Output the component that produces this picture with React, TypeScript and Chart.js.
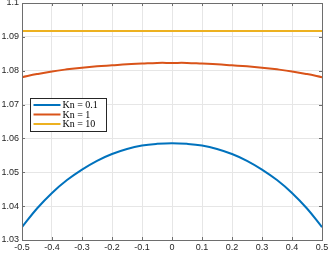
import React, { useEffect, useRef } from "react";
import { Chart, registerables } from "chart.js";

Chart.register(...registerables);

const xPositions = [-0.5, -0.45, -0.4, -0.35, -0.3, -0.25, -0.2, -0.15, -0.1, -0.05, 0, 0.05, 0.1, 0.15, 0.2, 0.25, 0.3, 0.35, 0.4, 0.45, 0.5];
const kn01 = [1.0338, 1.0393, 1.0439, 1.0477, 1.0508, 1.0534, 1.0554, 1.0569, 1.0579, 1.0584, 1.0586, 1.0584, 1.0579, 1.0569, 1.0554, 1.0534, 1.0508, 1.0477, 1.0439, 1.0393, 1.0338];
const kn1 = [1.0781, 1.079, 1.0798, 1.0804, 1.0809, 1.0813, 1.0816, 1.0819, 1.0821, 1.0823, 1.0823, 1.0823, 1.0821, 1.0819, 1.0816, 1.0813, 1.0809, 1.0804, 1.0798, 1.079, 1.0781];
const kn10 = [1.0917, 1.0917, 1.0917, 1.0917, 1.0917, 1.0917, 1.0917, 1.0917, 1.0917, 1.0917, 1.0917, 1.0917, 1.0917, 1.0917, 1.0917, 1.0917, 1.0917, 1.0917, 1.0917, 1.0917, 1.0917];
const seriesLabels = ["Kn = 0.1", "Kn = 1", "Kn = 10"];
const seriesColors = ["#0072BD", "#D95319", "#EDB120"];
const xTickLabels = ["-0.5", "-0.4", "-0.3", "-0.2", "-0.1", "0", "0.1", "0.2", "0.3", "0.4", "0.5"];
const yTickLabels = ["1.03", "1.04", "1.05", "1.06", "1.07", "1.08", "1.09", "1.1"];

const AXIS_COLOR = "#6e6e6e";

const framePlugin = {
  id: "frame",
  afterDatasetsDraw(chart: any) {
    const { ctx, chartArea: a, scales } = chart;
    ctx.save();
    ctx.strokeStyle = AXIS_COLOR;
    ctx.lineWidth = 1;
    ctx.beginPath();
    const L = 3;
    scales.x.ticks.forEach((t: any) => {
      const px = Math.round(scales.x.getPixelForValue(t.value)) + 0.5;
      ctx.moveTo(px, a.bottom);
      ctx.lineTo(px, a.bottom - L);
      ctx.moveTo(px, a.top);
      ctx.lineTo(px, a.top + L);
    });
    scales.y.ticks.forEach((t: any) => {
      const py = Math.round(scales.y.getPixelForValue(t.value)) + 0.5;
      ctx.moveTo(a.left, py);
      ctx.lineTo(a.left + L, py);
      ctx.moveTo(a.right, py);
      ctx.lineTo(a.right - L, py);
    });
    ctx.stroke();
    ctx.strokeRect(Math.round(a.left) + 0.5, Math.round(a.top) + 0.5, Math.round(a.right - a.left), Math.round(a.bottom - a.top));

    // legend
    const lx = 30.5, ly = 98.5, lw = 76, lh = 33;
    ctx.fillStyle = "#ffffff";
    ctx.fillRect(lx, ly, lw, lh);
    ctx.strokeStyle = "#262626";
    ctx.lineWidth = 1;
    ctx.strokeRect(lx, ly, lw, lh);
    ctx.font = "10px 'Liberation Serif', 'DejaVu Serif', serif";
    ctx.textBaseline = "middle";
    ctx.textAlign = "left";
    seriesLabels.forEach((lab, i) => {
      const y = ly + 6.5 + i * 9.5;
      ctx.strokeStyle = seriesColors[i];
      ctx.lineWidth = 2;
      ctx.beginPath();
      ctx.moveTo(lx + 3, y);
      ctx.lineTo(lx + 30, y);
      ctx.stroke();
      ctx.fillStyle = "#000000";
      ctx.fillText(lab, lx + 32, y + 0.5);
    });
    ctx.restore();
  },
};

export default function App() {
  const ref = useRef<HTMLCanvasElement>(null);
  useEffect(() => {
    document.body.style.margin = "0";
    const mk = (vals: number[]) => xPositions.map((x, i) => ({ x, y: vals[i] }));
    const chart = new Chart(ref.current!, {
      type: "line",
      data: {
        datasets: [kn01, kn1, kn10].map((vals, i) => ({
          label: seriesLabels[i],
          data: mk(vals),
          borderColor: seriesColors[i],
          backgroundColor: seriesColors[i],
          borderWidth: 2,
          pointRadius: 0,
          tension: 0.4,
          fill: false,
        })),
      },
      options: {
        animation: false,
        responsive: false,
        devicePixelRatio: 1,
        layout: { padding: { top: 3, right: 6, left: 0, bottom: 0 } },
        plugins: { legend: { display: false }, tooltip: { enabled: false } },
        scales: {
          x: {
            type: "linear",
            min: -0.5,
            max: 0.5,
            afterBuildTicks: (s: any) => {
              s.ticks = xTickLabels.map((l) => ({ value: parseFloat(l) }));
            },
            afterFit: (s: any) => {
              s.height = 15;
              s.paddingLeft = 0;
              s.paddingRight = 0;
            },
            ticks: {
              callback: (_v: any, i: number) => xTickLabels[i],
              color: "#262626",
              font: { size: 9, family: "'Liberation Sans', Arial, sans-serif" },
              padding: 2,
              maxRotation: 0,
              autoSkip: false,
            },
            grid: { color: "#e6e6e6", drawTicks: false, tickLength: 0 },
            border: { display: false },
          },
          y: {
            type: "linear",
            min: 1.03,
            max: 1.1,
            afterBuildTicks: (s: any) => {
              s.ticks = yTickLabels.map((l) => ({ value: parseFloat(l) }));
            },
            afterFit: (s: any) => {
              s.width = 22;
              s.paddingTop = 0;
              s.paddingBottom = 0;
            },
            ticks: {
              callback: (_v: any, i: number) => yTickLabels[i],
              color: "#262626",
              font: { size: 9, family: "'Liberation Sans', Arial, sans-serif" },
              padding: 3,
              autoSkip: false,
            },
            grid: { color: "#e6e6e6", drawTicks: false, tickLength: 0 },
            border: { display: false },
          },
        },
      },
      plugins: [framePlugin],
    });
    return () => chart.destroy();
  }, []);
  return (
    <div style={{ position: "fixed", left: 0, top: 0, width: 328, height: 255, background: "#fff" }}>
      <canvas ref={ref} width={328} height={255} style={{ width: 328, height: 255, display: "block" }} />
    </div>
  );
}
